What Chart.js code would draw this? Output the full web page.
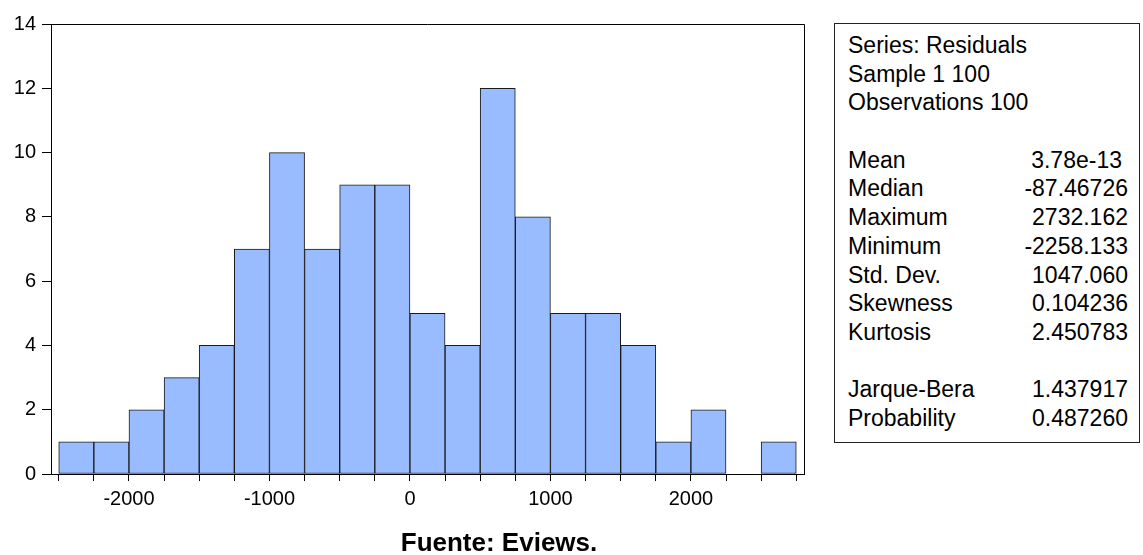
<!DOCTYPE html>
<html>
<head>
<meta charset="utf-8">
<script src="https://cdn.jsdelivr.net/npm/chart.js@4.4.1/dist/chart.umd.min.js"></script>
<style>
  html, body { margin: 0; padding: 0; background: #fff; }
  #wrap { position: relative; width: 1143px; height: 555px; overflow: hidden; }
  #hist { position: absolute; left: 0; top: 0; }
  #stats {
    position: absolute; left: 834px; top: 23px; width: 306px; height: 420px;
    box-sizing: border-box; border: 1px solid #222; background: #fff;
    font-family: "Liberation Sans", Arial, sans-serif; font-size: 23px; color: #000;
  }
  #stats .rows { position: absolute; left: 13px; right: 11px; top: 7px; }
  #stats .row { height: 28.7px; line-height: 28.7px; white-space: nowrap; position: relative; }
  #stats .row .v { position: absolute; right: 0; top: 0; }
  #caption {
    position: absolute; left: 380px; width: 238px; top: 527px; line-height: 30px;
    text-align: center; font-family: "Liberation Sans", Arial, sans-serif;
    font-weight: bold; font-size: 26px; color: #000;
  }
</style>
</head>
<body>
<div id="wrap">
  <canvas id="hist" width="1143" height="555"></canvas>
  <div id="stats"><div class="rows" id="statRows"></div></div>
  <div id="caption">Fuente: Eviews.</div>
</div>
<script>
// Histogram of the residuals: bin edges (width 250) and counts per bin
const binEdges = [-2500, -2250, -2000, -1750, -1500, -1250, -1000, -750, -500, -250,
                  0, 250, 500, 750, 1000, 1250, 1500, 1750, 2000, 2250, 2500, 2750];
const binCounts = [1, 1, 2, 3, 4, 7, 10, 7, 9, 9, 5, 4, 12, 8, 5, 5, 4, 1, 2, 0, 1];

// Axis ticks
const xLabelTicks = [-2000, -1000, 0, 1000, 2000];
const yTicks = [0, 2, 4, 6, 8, 10, 12, 14];

// Descriptive statistics panel
const statHeader = ['Series: Residuals', 'Sample 1 100', 'Observations 100'];
const statNames = ['Mean', 'Median', 'Maximum', 'Minimum', 'Std. Dev.', 'Skewness', 'Kurtosis'];
const statValues = ['3.78e-13', '-87.46726', '2732.162', '-2258.133', '1047.060', '0.104236', '2.450783'];
const testNames = ['Jarque-Bera', 'Probability'];
const testValues = ['1.437917', '0.487260'];

// Build the statistics block
(function () {
  const host = document.getElementById('statRows');
  const addRow = (label, value) => {
    const r = document.createElement('div');
    r.className = 'row';
    r.textContent = label || '';
    if (value !== undefined) {
      const v = document.createElement('span');
      v.className = 'v';
      v.textContent = value;
      if (value === '3.78e-13') v.style.right = '6px';
      r.appendChild(v);
    }
    host.appendChild(r);
  };
  statHeader.forEach(h => addRow(h));
  addRow('');
  statNames.forEach((n, i) => addRow(n, statValues[i]));
  addRow('');
  testNames.forEach((n, i) => addRow(n, testValues[i]));
})();

// One bar per bin, centred in the bin
const barData = binCounts.map((c, i) => ({
  x: (binEdges[i] + binEdges[i + 1]) / 2,
  y: c === 0 ? null : c
}));

// Frame on the top and right of the plot area
const framePlugin = {
  id: 'frame',
  afterDraw(chart) {
    const { ctx, chartArea: a } = chart;
    ctx.save();
    ctx.strokeStyle = '#000';
    ctx.lineWidth = 1;
    ctx.beginPath();
    ctx.moveTo(a.left, a.top + 0.5);
    ctx.lineTo(a.right + 0.5, a.top + 0.5);
    ctx.lineTo(a.right + 0.5, a.bottom);
    ctx.stroke();
    ctx.restore();
  }
};

const tickFont = { family: '"Liberation Sans", Arial, sans-serif', size: 20 };

new Chart(document.getElementById('hist'), {
  type: 'bar',
  data: {
    datasets: [{
      data: barData,
      backgroundColor: '#99BBFF',
      borderColor: '#1a1a1a',
      borderWidth: 1,
      borderSkipped: false,
      barPercentage: 1,
      categoryPercentage: 1
    }]
  },
  options: {
    responsive: false,
    devicePixelRatio: 1,
    animation: false,
    layout: { padding: { left: 0, top: 24, right: 339, bottom: 0 } },
    plugins: { legend: { display: false }, tooltip: { enabled: false } },
    scales: {
      x: {
        type: 'linear',
        offset: false,
        min: -2555,
        max: 2805,
        afterBuildTicks(scale) { scale.ticks = binEdges.map(v => ({ value: v })); },
        afterFit(scale) { scale.height = 81; },
        ticks: {
          autoSkip: false,
          maxRotation: 0,
          padding: 6,
          color: '#000',
          font: tickFont,
          callback: v => (xLabelTicks.includes(v) ? String(v) : '')
        },
        grid: { offset: false, drawOnChartArea: false, drawTicks: true, tickLength: 7, tickColor: '#000', tickWidth: 1 },
        border: { display: true, color: '#000', width: 1 }
      },
      y: {
        min: 0,
        max: 14,
        afterBuildTicks(scale) { scale.ticks = yTicks.map(v => ({ value: v })); },
        afterFit(scale) { scale.width = 51; },
        ticks: { padding: 6, color: '#000', font: tickFont },
        grid: { drawOnChartArea: false, drawTicks: true, tickLength: 9, tickColor: '#000', tickWidth: 1 },
        border: { display: true, color: '#000', width: 1 }
      }
    }
  },
  plugins: [framePlugin]
});
</script>
</body>
</html>
